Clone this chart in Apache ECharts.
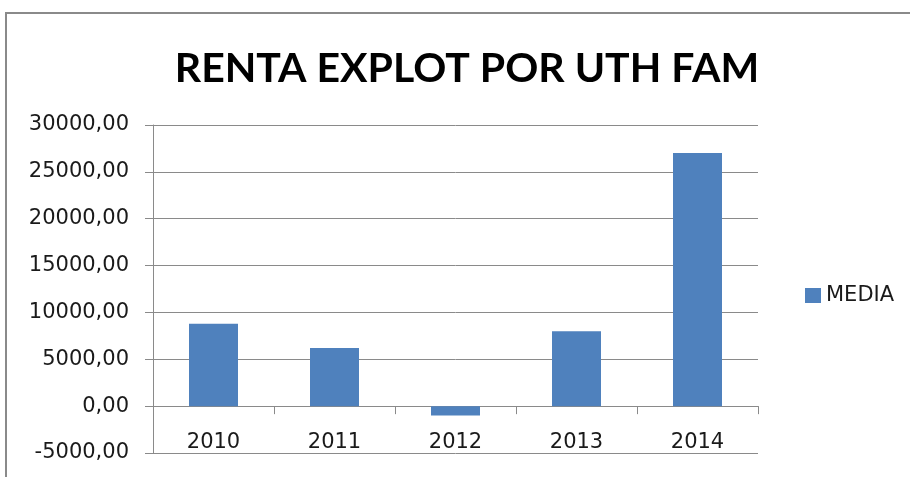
<!DOCTYPE html>
<html>
<head>
<meta charset="utf-8">
<script src="https://cdn.jsdelivr.net/npm/echarts@6/dist/echarts.min.js"></script>
<style>
  html, body { margin: 0; padding: 0; background: #fff; }
  #chart { width: 910px; height: 477px; }
</style>
</head>
<body>
<div id="chart"></div>
<script>
// values
var years = ["2010", "2011", "2012", "2013", "2014"];
var media = [8800, 6200, -1000, 8000, 27000];
var yMin = -5000;
var yMax = 30000;
var yStep = 5000;

var myChart = echarts.init(document.getElementById("chart"));

var option = {
  animation: false,
  color: ["#4F81BD"],
  title: {
    text: "RENTA EXPLOT POR UTH FAM",
    left: 467,
    top: 48,
    padding: 0,
    textAlign: "center",
    textStyle: {
      fontFamily: "Lato",
      fontWeight: "bold",
      fontSize: 41,
      color: "#000",
    },
  },
  graphic: [
    {
      // outer frame of the original chart object
      type: "rect",
      shape: { x: 6, y: 13, width: 940, height: 500 },
      style: { fill: "none", stroke: "#8a8a8a", lineWidth: 2 },
      silent: true,
    },
  ],
  legend: {
    left: 800,
    top: 280,
    icon: "rect",
    itemWidth: 16,
    itemHeight: 15,
    textStyle: {
      fontFamily: "DejaVu Sans",
      fontSize: 21,
      color: "#1a1a1a",
    },
  },
  grid: {
    left: 153,
    right: 152,
    top: 125,
    bottom: 24,
    containLabel: false,
    outerBoundsMode: "none",
  },
  xAxis: {
    type: "category",
    data: years,
    boundaryGap: true,
    axisLine: {
      onZero: true,
      lineStyle: { color: "#8a8a8a", width: 1 },
    },
    axisTick: {
      show: true,
      alignWithLabel: false,
      length: 8,
      lineStyle: { color: "#8a8a8a" },
    },
    axisLabel: {
      show: true,
      interval: 0,
      // v6 keeps these labels at the grid bottom, pull them up under the zero line
      margin: -21,
      fontFamily: "DejaVu Sans",
      fontSize: 21,
      color: "#1a1a1a",
    },
  },
  yAxis: {
    type: "value",
    min: yMin,
    max: yMax,
    interval: yStep,
    axisLine: {
      show: true,
      lineStyle: { color: "#8a8a8a", width: 1 },
    },
    axisTick: {
      show: true,
      length: 8,
      lineStyle: { color: "#8a8a8a" },
    },
    splitLine: {
      show: true,
      lineStyle: { color: "#8a8a8a", width: 1 },
    },
    axisLabel: {
      margin: 24,
      fontFamily: "DejaVu Sans",
      fontSize: 21,
      color: "#1a1a1a",
      formatter: function (v) {
        return v.toFixed(2).replace(".", ",");
      },
    },
  },
  series: [
    {
      name: "MEDIA",
      type: "bar",
      data: media,
      barWidth: 49,
    },
  ],
};

myChart.setOption(option);
</script>
</body>
</html>
